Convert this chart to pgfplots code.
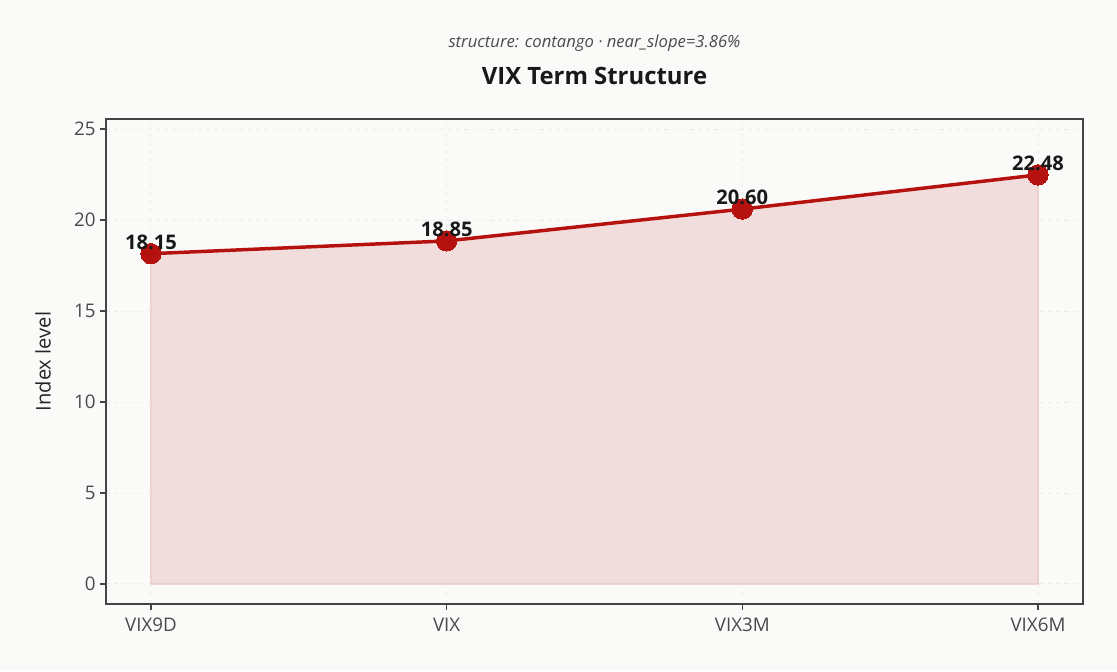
\documentclass[border=0pt]{standalone}
\usepackage{pgfplots}
\pgfplotsset{compat=1.18}
\usepackage{fontspec}
\setmainfont{Open Sans}
\definecolor{bg}{HTML}{FAFAF8}
\definecolor{vixred}{HTML}{B5120F}
\definecolor{fillred}{HTML}{F1DDDB}
\definecolor{edgered}{HTML}{E8C4C2}
\definecolor{spine}{HTML}{444444}
\definecolor{ticktxt}{HTML}{4A4A4A}
\definecolor{gridc}{HTML}{ECECEA}

\begin{document}
\begin{tikzpicture}[x=0.72pt,y=0.72pt]
  % page background, 1117 x 671 px with axis box at (106,119)-(1083,604)
  \fill[bg] (-106,-67) rectangle (1011,604);
  \begin{axis}[
    at={(0,0)}, anchor=south west,
    scale only axis,
    width=703.4pt, height=349.2pt,
    xmin=-0.152, xmax=3.152,
    ymin=-1.1, ymax=25.55,
    xtick={0,1,2,3},
    xticklabels={VIX9D,VIX,VIX3M,VIX6M},
    ytick={0,5,10,15,20,25},
    /pgf/number format/assume math mode=true,
    ticklabel style={font=\fontsize{13.5}{15}\selectfont, text=ticktxt},
    xticklabel style={yshift=-2.5pt},
    axis line style={spine, line width=1.1pt},
    tick style={spine, line width=1pt},
    tick align=outside,
    major tick length=4pt,
    xtick pos=bottom, ytick pos=left,
    grid=major,
    major grid style={gridc, dashed, line width=0.7pt},
    ylabel={Index level},
    ylabel style={font=\fontsize{14.5}{16}\selectfont, text=black!85,
      at={(axis description cs:-0.0645,0.5)}, anchor=center},
    axis background/.style={fill=bg},
    clip=false,
  ]
    \addplot[fill=fillred, draw=edgered, line width=0.8pt] coordinates {
      (0,18.15) (1,18.85) (2,20.60) (3,22.48)
    } \closedcycle;
    \addplot[color=vixred, line width=2.5pt, mark=*, mark size=7.3pt,
      mark options={fill=vixred, draw=vixred, line width=0pt},
      nodes near coords,
      point meta=explicit symbolic,
      nodes near coords style={anchor=base, yshift=3.2pt, inner sep=0pt,
        font=\bfseries\fontsize{14.5}{16}\selectfont, text=black!90},
    ] coordinates {
      (0,18.15) [18.15] (1,18.85) [18.85] (2,20.60) [20.60] (3,22.48) [22.48]
    };
  \end{axis}
  \node[anchor=base, font=\bfseries\fontsize{17.2}{20}\selectfont, text=black!90]
    at (488.5,519) {VIX Term Structure};
  \node[anchor=base, font=\itshape\fontsize{12}{14}\selectfont, text=black!70]
    at (488.5,556) {structure: contango · near\_slope=3.86\%};
\end{tikzpicture}
\end{document}
